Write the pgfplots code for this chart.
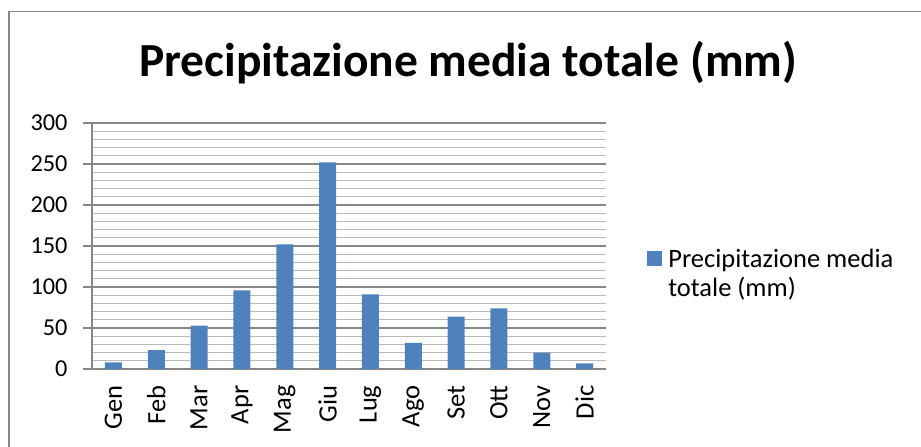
\documentclass[border=0pt]{standalone}
\usepackage{pgfplots}
\pgfplotsset{compat=1.18}
\usepackage{fontspec}
\setmainfont{Carlito}
\definecolor{barblue}{HTML}{4F81BD}
\definecolor{majgrid}{RGB}{134,134,134}
\definecolor{mingrid}{RGB}{185,185,185}
\definecolor{framegray}{RGB}{134,134,134}
\begin{document}
\begin{tikzpicture}[x=1bp,y=1bp]
\useasboundingbox (0,0) rectangle (921,447);
\draw[framegray,line width=1.5bp] (9,0) -- (9,435.5) -- (921,435.5);
\node[anchor=base,font=\fontsize{47.5bp}{50bp}\selectfont\bfseries] at (468,370.3) {Precipitazione media totale (mm)};
\begin{axis}[
  at={(92bp,78bp)}, anchor=south west,
  width=514bp, height=246bp, scale only axis,
  xmin=-0.5, xmax=11.5, ymin=0, ymax=300,
  axis x line=bottom, axis y line=left,
  axis line style={-, draw=majgrid, line width=1.2bp},
  ytick={0,50,...,300}, minor y tick num=4,
  ymajorgrids, yminorgrids,
  major grid style={draw=majgrid, line width=1.2bp},
  minor grid style={draw=mingrid, line width=1.2bp},
  minor y tick style={draw=none},
  xtick={0,...,11},
  xticklabels={Gen,Feb,Mar,Apr,Mag,Giu,Lug,Ago,Set,Ott,Nov,Dic},
  x tick style={draw=none},
  y tick style={draw=majgrid, line width=1.2bp},
  tick align=outside, major tick length=9bp,
  extra x ticks={-0.5,0.5,...,11.5},
  extra x tick labels={},
  extra x tick style={grid=none, major tick length=7bp, tick style={draw=majgrid, line width=1.2bp}},
  x tick label style={yshift=-4bp, rotate=90, anchor=east, font=\fontsize{26.5bp}{29bp}\selectfont},
  y tick label style={xshift=-12bp, font=\fontsize{24.3bp}{28bp}\selectfont},
  /pgf/number format/assume math mode=true,
  legend style={at={(1.08,0.39)}, anchor=west, draw=none, fill=none, inner sep=0pt,
    font=\fontsize{26.5bp}{29bp}\selectfont, cells={align=left}},
  legend cell align=left,
  legend image code/.code={\fill[barblue] (0bp,7bp) rectangle (15bp,22bp); \path (19bp,14bp);},
]
\addplot[ybar, bar width=17bp, fill=barblue, draw=none] coordinates {
 (0,8) (1,23) (2,53) (3,96) (4,152) (5,252) (6,91) (7,32) (8,64) (9,74) (10,20) (11,7)
};
\addlegendentry{Precipitazione media\\totale (mm)}
\end{axis}
\end{tikzpicture}
\end{document}
